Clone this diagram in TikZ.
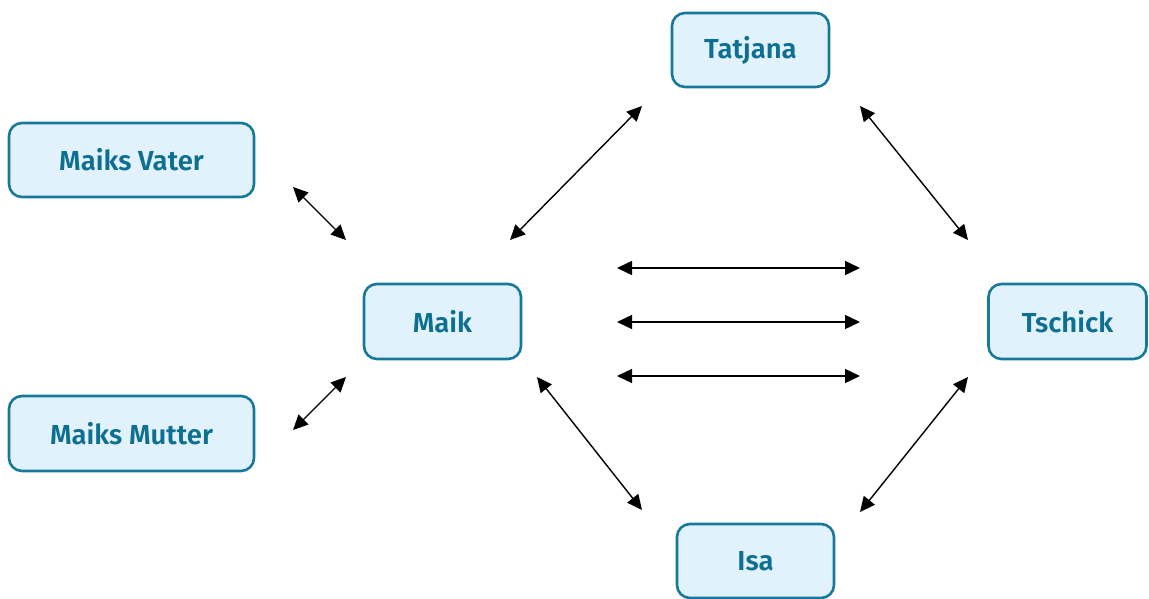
\documentclass[tikz,border=0pt]{standalone}
\usepackage{fontspec}
\setmainfont{Fira Sans}[BoldFont={Fira Sans SemiBold}]
\usetikzlibrary{arrows.meta}
\definecolor{boxfill}{HTML}{E2F2FC}
\definecolor{boxline}{HTML}{16799C}
\definecolor{boxtext}{HTML}{0D6F92}
\tikzset{
  person/.style={draw=boxline, fill=boxfill, line width=2.6pt, rounded corners=13pt,
    text=boxtext, font=\fontsize{27.5}{31}\selectfont\bfseries, align=center, inner sep=0pt},
  link/.style={line width=1.4pt, {Triangle[length=15pt,width=14pt]}-{Triangle[length=15pt,width=14pt]}}
}
\begin{document}
\begin{tikzpicture}[x=1pt,y=-1pt]
\useasboundingbox (0,0) rectangle (1149,599);
\node[person, minimum width=157pt, minimum height=74pt] (tatjana) at (750.5,50) {Tatjana};
\node[person, minimum width=245pt, minimum height=74pt] (vater) at (131.5,160) {Maiks Vater};
\node[person, minimum width=157pt, minimum height=75pt] (maik) at (442.5,321.5) {Maik};
\node[person, minimum width=158pt, minimum height=75pt] (tschick) at (1067.5,321.5) {Tschick};
\node[person, minimum width=245pt, minimum height=75pt] (mutter) at (131.5,433.5) {Maiks Mutter};
\node[person, minimum width=157pt, minimum height=74pt] (isa) at (755.5,561) {Isa};
% arrow ends
\coordinate (v1) at (293,187); \coordinate (v2) at (346,240);
\coordinate (m1) at (293,430); \coordinate (m2) at (346,377);
\coordinate (t1) at (510,240); \coordinate (t2) at (642,106);
\coordinate (s1) at (860,106); \coordinate (s2) at (968,240);
\coordinate (i1) at (537,377); \coordinate (i2) at (642,510);
\coordinate (j1) at (860,512); \coordinate (j2) at (968,377);
\coordinate (h1a) at (617,268); \coordinate (h1b) at (860,268);
\coordinate (h2a) at (617,322); \coordinate (h2b) at (860,322);
\coordinate (h3a) at (617,376); \coordinate (h3b) at (860,376);
\draw[link] (v1) -- (v2);
\draw[link] (m1) -- (m2);
\draw[link] (t1) -- (t2);
\draw[link] (s1) -- (s2);
\draw[link] (i1) -- (i2);
\draw[link] (j1) -- (j2);
\draw[link] (h1a) -- (h1b);
\draw[link] (h2a) -- (h2b);
\draw[link] (h3a) -- (h3b);
\end{tikzpicture}
\end{document}
